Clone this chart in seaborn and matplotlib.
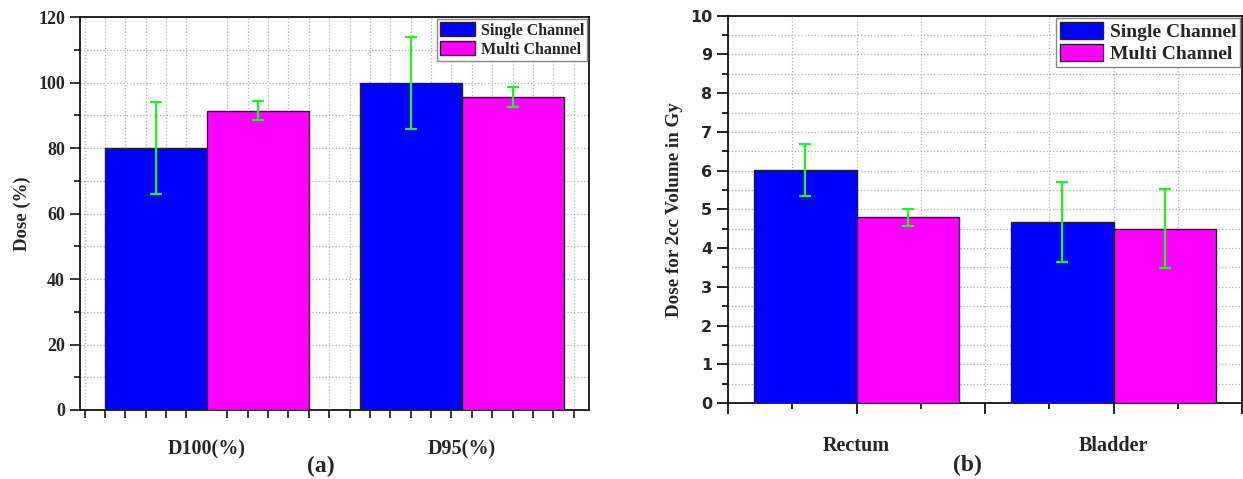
import numpy as np
import pandas as pd
import matplotlib
matplotlib.use("Agg")
import matplotlib.pyplot as plt
from matplotlib.ticker import FixedLocator, MultipleLocator
import seaborn as sns

# ---- data ----
series = ["Single Channel", "Multi Channel"]
cats_a = ["D100(%)", "D95(%)"]
single_a = [80.0, 100.0]
multi_a = [91.5, 95.7]
single_a_err = [14.0, 14.1]
multi_a_err = [3.0, 3.0]

cats_b = ["Rectum", "Bladder"]
single_b = [6.01, 4.68]
multi_b = [4.79, 4.50]
single_b_err = [0.67, 1.03]
multi_b_err = [0.21, 1.02]

palette = {"Single Channel": "#0000FF", "Multi Channel": "#FF00FF"}
err_color = "#22EE22"
serif = ["Liberation Serif", "DejaVu Serif"]

sns.set_theme(style="white")
plt.rcParams["font.family"] = serif
plt.rcParams["font.weight"] = "bold"

fig = plt.figure(figsize=(12.43, 4.79), dpi=100)
W, H = 1243, 479
axA = fig.add_axes([79.5 / W, 1 - 410 / H, (589 - 79.5) / W, (410 - 17.3) / H])
axB = fig.add_axes([728 / W, 1 - 403 / H, (1242 - 728) / W, (403 - 15.7) / H])


def make_df(cats, s, m):
    return pd.DataFrame({
        "cat": cats * 2,
        "series": [series[0]] * len(cats) + [series[1]] * len(cats),
        "val": list(s) + list(m),
    })


def draw(ax, cats, s, m, se, me):
    df = make_df(cats, s, m)
    sns.barplot(data=df, x="cat", y="val", hue="series", order=cats,
                hue_order=series, palette=palette, ax=ax, errorbar=None,
                edgecolor="#222222", linewidth=1.0, saturation=1, width=0.8,
                zorder=3)
    for cont, errs in zip(ax.containers, [se, me]):
        xs = [p.get_x() + p.get_width() / 2 for p in cont.patches]
        ys = [p.get_height() for p in cont.patches]
        ax.errorbar(xs, ys, yerr=errs, fmt="none", ecolor=err_color,
                    elinewidth=1.6, capsize=4.5, capthick=1.6, zorder=4)
    ax.set_xlim(-0.5, 1.5)
    ax.set_xlabel("")
    for sp in ax.spines.values():
        sp.set_visible(True)
        sp.set_color("black")
        sp.set_linewidth(1.2)
    handles = [plt.Rectangle((0, 0), 1, 1, facecolor=palette[k],
                             edgecolor="#222222", linewidth=1.0) for k in series]
    return handles


# ---- panel (a) ----
hA = draw(axA, cats_a, single_a, multi_a, single_a_err, multi_a_err)
axA.set_ylim(0, 120)
axA.yaxis.set_major_locator(MultipleLocator(20))
axA.yaxis.set_minor_locator(MultipleLocator(10))
axA.xaxis.set_major_locator(FixedLocator([0, 1]))
axA.set_xticklabels(cats_a)
axA.xaxis.set_minor_locator(FixedLocator(np.arange(-0.48, 1.47, 0.08)))
axA.tick_params(axis="x", which="major", length=0, pad=21, labelsize=14.5)
axA.tick_params(axis="x", which="minor", length=6, width=1.1, direction="out",
                bottom=True, color="black")
axA.tick_params(axis="y", which="major", length=7, width=1.1, direction="out",
                left=True, labelsize=13, color="black")
axA.tick_params(axis="y", which="minor", length=4, width=1.1, direction="out",
                left=True, color="black")
for t in axA.get_xticklabels() + axA.get_yticklabels():
    t.set_fontweight("bold")
    t.set_family(serif)
axA.set_ylabel("Dose (%)", fontsize=13.5, fontweight="bold", labelpad=5)
axA.grid(True, which="both", axis="y", linestyle=":", color="#b0b0b0",
         linewidth=0.9, zorder=0)
axA.grid(True, which="minor", axis="x", linestyle=":", color="#b0b0b0",
         linewidth=0.9, zorder=0)
axA.set_axisbelow(True)
legA = axA.legend(hA, series, loc="upper right", frameon=True, fancybox=False,
                  edgecolor="#888888", framealpha=1, borderaxespad=0.1,
                  handlelength=2.2, handleheight=1.0, handletextpad=0.35,
                  borderpad=0.2, labelspacing=0.15,
                  prop={"family": serif, "weight": "bold", "size": 11.5})

# ---- panel (b) ----
hB = draw(axB, cats_b, single_b, multi_b, single_b_err, multi_b_err)
axB.set_ylim(0, 10)
axB.yaxis.set_major_locator(MultipleLocator(1))
axB.yaxis.set_minor_locator(MultipleLocator(0.5))
axB.xaxis.set_major_locator(FixedLocator([-0.5, 0, 0.5, 1, 1.5]))
axB.set_xticklabels(["", cats_b[0], "", cats_b[1], ""])
axB.xaxis.set_minor_locator(FixedLocator([-0.25, 0.25, 0.75, 1.25]))
axB.tick_params(axis="x", which="major", length=8, width=1.2, direction="out",
                bottom=True, pad=16, labelsize=14.5, color="black")
axB.tick_params(axis="x", which="minor", length=4, width=1.2, direction="out",
                bottom=True, color="black")
axB.tick_params(axis="y", which="major", length=8, width=1.2, direction="out",
                left=True, labelsize=11.5, color="black")
axB.tick_params(axis="y", which="minor", length=4, width=1.2, direction="out",
                left=True, color="black")
for t in axB.get_xticklabels():
    t.set_fontweight("bold")
    t.set_family(serif)
for t in axB.get_yticklabels():
    t.set_fontweight("bold")
    t.set_family(["DejaVu Sans"])
axB.set_ylabel("Dose for 2cc Volume in Gy", fontsize=13.7, fontweight="bold",
               labelpad=5)
axB.grid(True, which="both", axis="both", linestyle=":", color="#b0b0b0",
         linewidth=0.9, zorder=0)
axB.set_axisbelow(True)
legB = axB.legend(hB, series, loc="upper right", frameon=True, fancybox=False,
                  edgecolor="#888888", framealpha=1, borderaxespad=0.1,
                  handlelength=2.2, handleheight=1.0, handletextpad=0.35,
                  borderpad=0.2, labelspacing=0.15,
                  prop={"family": serif, "weight": "bold", "size": 14})

fig.text(321 / W, 1 - 466 / H, "(a)", ha="center", va="center",
         fontsize=17, fontweight="bold", family=serif)
fig.text(967 / W, 1 - 465 / H, "(b)", ha="center", va="center",
         fontsize=17, fontweight="bold", family=serif)

fig.savefig("out.png", dpi=100)
